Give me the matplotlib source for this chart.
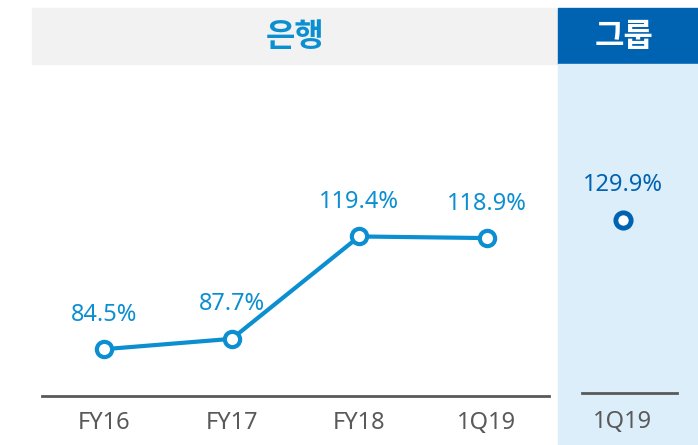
import matplotlib
matplotlib.use("Agg")
import matplotlib.pyplot as plt
from matplotlib.patches import Rectangle

plt.rcParams['font.family'] = ['Noto Sans', 'Noto Sans CJK KR', 'DejaVu Sans']

# data
bank_periods = ['FY16', 'FY17', 'FY18', '1Q19']
bank_values = [84.5, 87.7, 119.4, 118.9]
group_periods = ['1Q19']
group_values = [129.9]
bank_title = '은행'
group_title = '그룹'

# colours
C_BANK = '#0b8fd1'
C_GROUP = '#0063b2'
C_GRAY_HDR = '#f2f2f2'
C_BLUE_BG = '#ddeefb'
C_TICK = '#595959'

W, H = 698, 445
fig = plt.figure(figsize=(W / 100, H / 100), dpi=100)


def px_rect(x0, y0, x1, y1):
    # pixel box (top-left origin) -> figure fraction
    return [x0 / W, 1 - y1 / H, (x1 - x0) / W, (y1 - y0) / H]


# background bands (behind the axes)
for box, col in [((32, 8, 558, 64), C_GRAY_HDR),
                 ((558, 8, 698, 64), C_GROUP),
                 ((558, 64, 698, 445), C_BLUE_BG)]:
    l, b, w, h = px_rect(*box)
    fig.patches.append(Rectangle((l, b), w, h, transform=fig.transFigure,
                                 color=col, zorder=-5))

fig.text(295 / W, 1 - 37 / H, bank_title, ha='center', va='center', fontsize=23,
         fontweight='bold', color=C_BANK, family='Noto Sans CJK KR')
fig.text(624 / W, 1 - 37 / H, group_title, ha='center', va='center', fontsize=23,
         fontweight='bold', color='white', family='Noto Sans CJK KR')

# bank panel
ax = fig.add_axes(px_rect(42, 64, 549, 396))
ax.patch.set_alpha(0)
xs = range(len(bank_values))
ax.plot(xs, bank_values, color=C_BANK, lw=3, marker='o', ms=11, mew=3,
        mfc='white', mec=C_BANK, zorder=3)
for x, v in zip(xs, bank_values):
    ax.annotate(f'{v:.1f}%', (x, v), xytext=(0, 20.5), textcoords='offset points',
                ha='center', va='baseline', fontsize=17, color=C_BANK)
ax.set_xlim(-0.49, 3.49)
ax.set_ylim(70, 172.8)
ax.set_xticks(list(xs))
ax.set_xticklabels(bank_periods, fontsize=17, color=C_TICK)
ax.set_yticks([])
for s in ['top', 'right', 'left']:
    ax.spines[s].set_visible(False)
ax.spines['bottom'].set_color(C_TICK)
ax.spines['bottom'].set_linewidth(2)
ax.tick_params(axis='x', length=0, pad=11)

# group panel
ax2 = fig.add_axes(px_rect(582, 64, 677, 393))
ax2.patch.set_alpha(0)
ax2.plot([0], group_values, color=C_GROUP, lw=0, marker='o', ms=11, mew=3.5,
         mfc='white', mec=C_GROUP, zorder=3)
ax2.annotate(f'{group_values[0]:.1f}%', (0, group_values[0]), xytext=(0, 20.5),
             textcoords='offset points', ha='center', va='baseline', fontsize=17,
             color=C_GROUP)
ax2.set_xlim(-0.43, 0.57)
ax2.set_ylim(0, 246.4)
ax2.set_xticks([0])
ax2.set_xticklabels(group_periods, fontsize=17, color=C_TICK)
ax2.set_yticks([])
for s in ['top', 'right', 'left']:
    ax2.spines[s].set_visible(False)
ax2.spines['bottom'].set_color(C_TICK)
ax2.spines['bottom'].set_linewidth(2)
ax2.tick_params(axis='x', length=0, pad=12)

fig.savefig('out.png', dpi=100)
